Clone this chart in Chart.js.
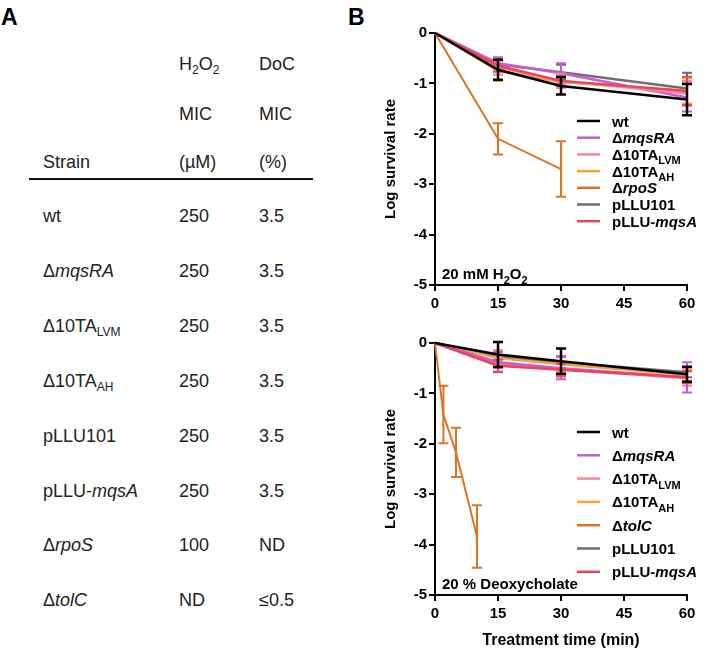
<!DOCTYPE html>
<html><head><meta charset="utf-8">
<script src="https://cdn.jsdelivr.net/npm/chart.js@4"></script>
<style>
body{margin:0;width:727px;height:654px;background:#fff;position:relative;overflow:hidden;font-family:"Liberation Sans",Arial,sans-serif;}
.t{position:absolute;font-size:18px;color:#222;white-space:nowrap;line-height:18px;}
.t sub{font-size:12px;vertical-align:-4px;line-height:0;}
.p{position:absolute;font-size:23px;font-weight:bold;color:#000;line-height:23px;}
.rule{position:absolute;left:29px;top:178px;width:284px;height:1.5px;background:#111;}
canvas{position:absolute;}
</style></head>
<body>
<div class="p" style="left:1px;top:6px">A</div>
<div class="p" style="left:348px;top:6px">B</div>
<div class="rule"></div>
<canvas id="c1" width="367" height="320" style="left:360px;top:0px"></canvas>
<canvas id="c2" width="367" height="334" style="left:360px;top:320px"></canvas>
<script>
// ---------- Panel A table data ----------
const headerRows = [["", "H<sub>2</sub>O<sub>2</sub>", "DoC"], ["", "MIC", "MIC"], ["Strain", "(µM)", "(%)"]];
const tableStrains = ["wt", "Δ<i>mqsRA</i>", "Δ10TA<sub>LVM</sub>", "Δ10TA<sub>AH</sub>", "pLLU101", "pLLU-<i>mqsA</i>", "Δ<i>rpoS</i>", "Δ<i>tolC</i>"];
const tableH2O2MIC = ["250", "250", "250", "250", "250", "250", "100", "ND"];
const tableDoCMIC = ["3.5", "3.5", "3.5", "3.5", "3.5", "3.5", "ND", "≤0.5"];

// ---------- Panel B data ----------
const timesMain = [0, 15, 30, 60];
const timesRpoS = [0, 15, 30];
const timesTolC = [0, 2, 5, 10];
const xTicks = [0, 15, 30, 45, 60];
const yTicks = [0, -1, -2, -3, -4, -5];

const seriesLabels = ["wt", "Δ*mqsRA*", "Δ10TA_{LVM}", "Δ10TA_{AH}", "Δ*rpoS*", "pLLU101", "pLLU-*mqsA*"];
const seriesLabelsDoC = ["wt", "Δ*mqsRA*", "Δ10TA_{LVM}", "Δ10TA_{AH}", "Δ*tolC*", "pLLU101", "pLLU-*mqsA*"];

// 20 mM H2O2
const h2o2Wt = [0, -0.73, -1.05, -1.32];      const h2o2WtErr = [0, 0.2, 0.17, 0.31];
const h2o2MqsRA = [0, -0.6, -0.8, -1.28];     const h2o2MqsRAErr = [0, 0.12, 0.2, 0.28];
const h2o2Lvm = [0, -0.68, -0.95, -1.2];      const h2o2LvmErr = [0, 0.15, 0.14, 0.25];
const h2o2Ah = [0, -0.75, -0.97, -1.15];      const h2o2AhErr = [0, 0.2, 0.12, 0.25];
const h2o2RpoS = [0, -2.1, -2.7];             const h2o2RpoSErr = [0, 0.31, 0.55];
const h2o2P101 = [0, -0.62, -0.78, -1.1];     const h2o2P101Err = [0, 0.1, 0.15, 0.31];
const h2o2PMqsA = [0, -0.65, -0.95, -1.15];   const h2o2PMqsAErr = [0, 0.12, 0.1, 0.28];

// 20 % Deoxycholate
const docWt = [0, -0.23, -0.36, -0.62];       const docWtErr = [0, 0.25, 0.25, 0.15];
const docMqsRA = [0, -0.38, -0.5, -0.68];     const docMqsRAErr = [0, 0.2, 0.22, 0.3];
const docLvm = [0, -0.42, -0.52, -0.7];       const docLvmErr = [0, 0.15, 0.15, 0.15];
const docAh = [0, -0.3, -0.42, -0.63];        const docAhErr = [0, 0.15, 0.15, 0.12];
const docTolC = [0, -1.42, -2.17, -3.84];     const docTolCErr = [0, 0.57, 0.49, 0.62];
const docP101 = [0, -0.27, -0.38, -0.58];     const docP101Err = [0, 0.12, 0.12, 0.1];
const docPMqsA = [0, -0.45, -0.53, -0.68];    const docPMqsAErr = [0, 0.12, 0.12, 0.12];

const colors = ["#000000", "#C95BD8", "#F4889A", "#F5A33A", "#DD7424", "#6E6E6E", "#EC4456"];

// ---------- Build table ----------
function addText(html, x, baseline, cls) {
  const d = document.createElement('div');
  d.className = cls || 't';
  d.innerHTML = html;
  d.style.left = x + 'px';
  d.style.top = (baseline - 15) + 'px';
  document.body.appendChild(d);
}
const colX = [43, 179, 259];
const headBase = [70, 120, 168];
headerRows.forEach((r, i) => r.forEach((c, j) => { if (c) addText(c, colX[j], headBase[i]); }));
tableStrains.forEach((s, i) => {
  const b = 222 + i * 54.9;
  addText(s, colX[0], b);
  addText(tableH2O2MIC[i], colX[1], b);
  addText(tableDoCMIC[i], colX[2], b);
});

// ---------- Plugins ----------
const FONT = '"Liberation Sans", Arial, sans-serif';
function drawRich(ctx, text, x, y, size) {
  const parts = text.split(/(\*[^*]+\*|_\{[^}]+\})/).filter(s => s.length);
  let cx = x;
  parts.forEach(p => {
    let t = p, italic = false, sub = false;
    if (p.startsWith('*')) { t = p.slice(1, -1); italic = true; }
    else if (p.startsWith('_{')) { t = p.slice(2, -1); sub = true; }
    const sz = sub ? Math.round(size * 0.72) : size;
    ctx.font = (italic ? 'italic ' : '') + 'bold ' + sz + 'px ' + FONT;
    ctx.fillText(t, cx, sub ? y + size * 0.3 : y);
    cx += ctx.measureText(t).width;
  });
}
const errBars = {
  id: 'errBars',
  afterDatasetDraw(chart, args) {
    const ds = chart.data.datasets[args.index];
    if (!ds.err) return;
    const ctx = chart.ctx, xs = chart.scales.x, ys = chart.scales.y;
    ctx.save();
    ctx.strokeStyle = ds.borderColor;
    ctx.lineWidth = ds.errWidth || 2;
    ds.data.forEach((p, j) => {
      const e = ds.err[j];
      if (!e) return;
      const px = xs.getPixelForValue(p.x);
      const y1 = ys.getPixelForValue(p.y + e), y2 = ys.getPixelForValue(p.y - e);
      ctx.beginPath();
      ctx.moveTo(px, y1); ctx.lineTo(px, y2);
      ctx.moveTo(px - 5, y1); ctx.lineTo(px + 5, y1);
      ctx.moveTo(px - 5, y2); ctx.lineTo(px + 5, y2);
      ctx.stroke();
    });
    ctx.restore();
  }
};
const richLegend = {
  id: 'richLegend',
  afterDraw(chart, args, opts) {
    const ctx = chart.ctx;
    ctx.save();
    chart.data.datasets.forEach((ds, i) => {
      const y = opts.y + i * opts.step;
      ctx.strokeStyle = ds.borderColor;
      ctx.lineWidth = 2.5;
      ctx.beginPath(); ctx.moveTo(opts.x, y); ctx.lineTo(opts.x + 23, y); ctx.stroke();
      ctx.fillStyle = '#000';
      ctx.textBaseline = 'alphabetic';
      drawRich(ctx, ds.label, opts.x + 35, y + 5.5, 15);
    });
    ctx.restore();
  }
};
const note = {
  id: 'note',
  afterDraw(chart, args, opts) {
    const ctx = chart.ctx;
    ctx.save();
    ctx.fillStyle = '#000';
    drawRich(ctx, opts.text, chart.chartArea.left + opts.dx, chart.chartArea.bottom + opts.dy, 15);
    ctx.restore();
  }
};

function ds(label, xs, ys, err, color, order, width, errW) {
  return {
    label, data: xs.map((x, i) => ({ x, y: ys[i] })), err,
    borderColor: color, backgroundColor: color, borderWidth: width || 2.5,
    errWidth: errW || 2, order, pointRadius: 0, tension: 0, clip: false
  };
}

function makeChart(id, datasets, topPad, xAxisH, showXTitle, legendY, legendStep, noteText) {
  return new Chart(document.getElementById(id), {
    type: 'line',
    data: { datasets },
    plugins: [errBars, richLegend, note],
    options: {
      responsive: false, animation: false, events: [],
      layout: { padding: { left: 18, top: topPad, right: 40, bottom: 0 } },
      plugins: {
        legend: { display: false }, tooltip: { enabled: false },
        richLegend: { x: 217, y: legendY, step: legendStep },
        note: { text: noteText, dx: 7, dy: -6 }
      },
      scales: {
        x: {
          type: 'linear', min: 0, max: 60,
          afterBuildTicks: s => { s.ticks = xTicks.map(v => ({ value: v })); },
          ticks: { color: '#000', font: { family: FONT, size: 15, weight: 'bold' }, padding: 4 },
          grid: { display: true, drawOnChartArea: false, drawTicks: true, tickLength: 6, color: '#000', lineWidth: 2 },
          border: { display: true, color: '#000', width: 2 },
          title: { display: showXTitle, text: 'Treatment time (min)', color: '#000', font: { family: FONT, size: 16, weight: 'bold' }, padding: { top: 9 } },
          afterFit: s => { s.height = xAxisH; }
        },
        y: {
          min: -5, max: 0,
          afterBuildTicks: s => { s.ticks = yTicks.map(v => ({ value: v })); },
          ticks: { color: '#000', font: { family: FONT, size: 15, weight: 'bold' }, padding: 2 },
          grid: { display: true, drawOnChartArea: false, drawTicks: true, tickLength: 6, color: '#000', lineWidth: 2 },
          border: { display: true, color: '#000', width: 2 },
          title: { display: true, text: 'Log survival rate', color: '#000', font: { family: FONT, size: 15, weight: 'bold' }, padding: 4 },
          afterFit: s => { s.width = 57; }
        }
      }
    }
  });
}

makeChart('c1', [
  ds(seriesLabels[0], timesMain, h2o2Wt, h2o2WtErr, colors[0], 0, 2.5, 2.5),
  ds(seriesLabels[1], timesMain, h2o2MqsRA, h2o2MqsRAErr, colors[1], 5),
  ds(seriesLabels[2], timesMain, h2o2Lvm, h2o2LvmErr, colors[2], 3),
  ds(seriesLabels[3], timesMain, h2o2Ah, h2o2AhErr, colors[3], 4),
  ds(seriesLabels[4], timesRpoS, h2o2RpoS, h2o2RpoSErr, colors[4], 1, 2, 2),
  ds(seriesLabels[5], timesMain, h2o2P101, h2o2P101Err, colors[5], 6),
  ds(seriesLabels[6], timesMain, h2o2PMqsA, h2o2PMqsAErr, colors[6], 2)
], 33, 35, false, 121, 16.7, '20 mM H_{2}O_{2}');

makeChart('c2', [
  ds(seriesLabelsDoC[0], timesMain, docWt, docWtErr, colors[0], 0, 2.5, 2.5),
  ds(seriesLabelsDoC[1], timesMain, docMqsRA, docMqsRAErr, colors[1], 3),
  ds(seriesLabelsDoC[2], timesMain, docLvm, docLvmErr, colors[2], 4),
  ds(seriesLabelsDoC[3], timesMain, docAh, docAhErr, colors[3], 5),
  ds(seriesLabelsDoC[4], timesTolC, docTolC, docTolCErr, colors[4], 1, 2, 2),
  ds(seriesLabelsDoC[5], timesMain, docP101, docP101Err, colors[5], 6),
  ds(seriesLabelsDoC[6], timesMain, docPMqsA, docPMqsAErr, colors[6], 2)
], 23, 59, true, 112, 23.3, '20 % Deoxycholate');
</script>
</body></html>
